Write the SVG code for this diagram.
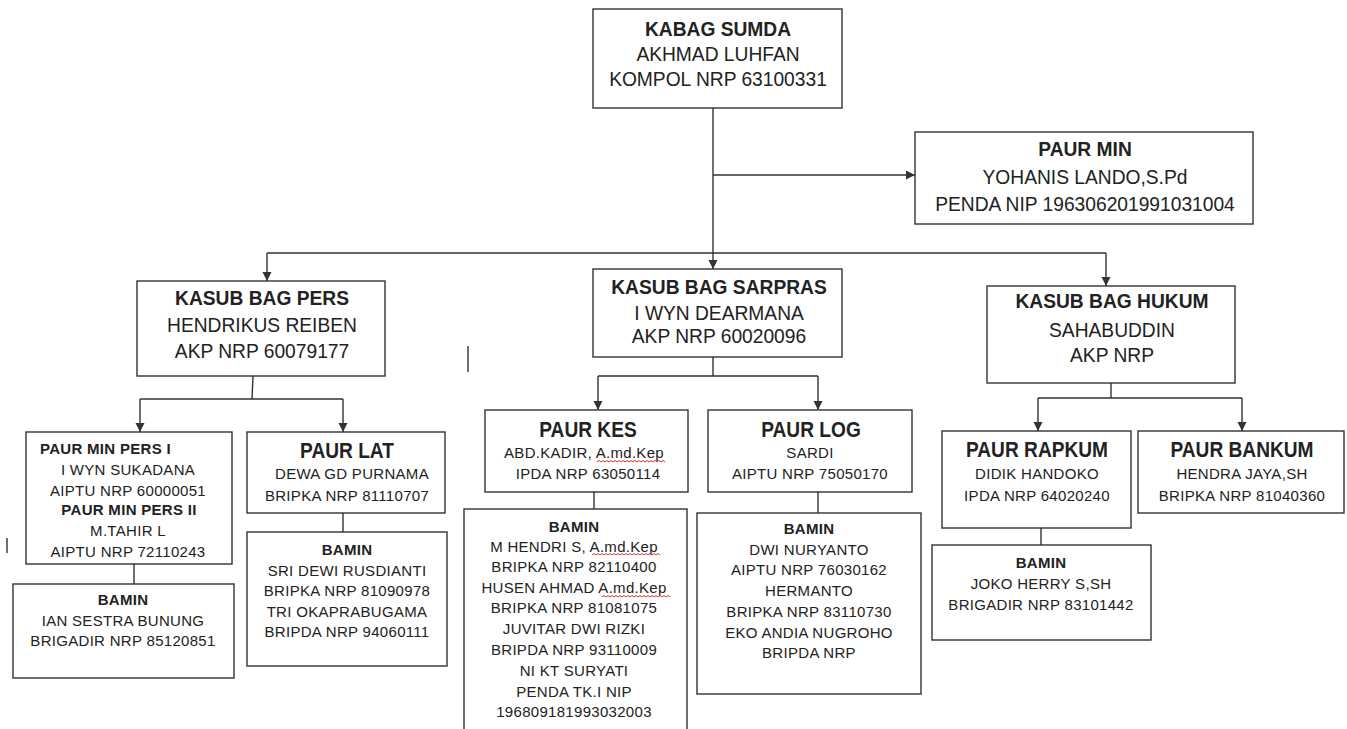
<svg xmlns="http://www.w3.org/2000/svg" width="1347" height="729" viewBox="0 0 1347 729">
<style>
.box{fill:#fff;stroke:#333;stroke-width:1.4}
.ln{fill:none;stroke:#333;stroke-width:1.4}
text{font-family:"Liberation Sans",Arial,sans-serif;fill:#222;text-anchor:middle}
.h,.hb,.pb{font-size:21px;transform-box:fill-box;transform-origin:center;transform:scaleX(0.915)}
.hb,.pb{font-weight:bold}
.pb{font-size:22px;transform:scaleX(0.87)}
.s{font-size:15px;letter-spacing:0.3px}
.sb{font-size:15px;font-weight:bold;letter-spacing:0.3px}
.sq{fill:none;stroke:#e03030;stroke-width:1}
</style>
<defs>
<marker id="ar" markerUnits="userSpaceOnUse" markerWidth="10" markerHeight="10" refX="9" refY="4.5" orient="auto">
<path d="M0,0 L9,4.5 L0,9 z" fill="#333"/>
</marker>
</defs>
<rect width="1347" height="729" fill="#fff"/>
<g id="connectors">
<path class="ln" d="M713,108 V269" marker-end="url(#ar)"/>
<path class="ln" d="M713,175 H915" marker-end="url(#ar)"/>
<path class="ln" d="M267,253 H1106"/>
<path class="ln" d="M267,253 V281" marker-end="url(#ar)"/>
<path class="ln" d="M1106,253 V286" marker-end="url(#ar)"/>
<path class="ln" d="M253,376 L252,399"/>
<path class="ln" d="M140,399 H343"/>
<path class="ln" d="M140,399 V432" marker-end="url(#ar)"/>
<path class="ln" d="M343,399 V432" marker-end="url(#ar)"/>
<path class="ln" d="M134,564 V584"/>
<path class="ln" d="M343,513 V532"/>
<path class="ln" d="M713,357 V376"/>
<path class="ln" d="M598,376 H818"/>
<path class="ln" d="M598,376 V410" marker-end="url(#ar)"/>
<path class="ln" d="M818,376 V410" marker-end="url(#ar)"/>
<path class="ln" d="M594,492 V509"/>
<path class="ln" d="M818,492 V513"/>
<path class="ln" d="M1111,383 V398"/>
<path class="ln" d="M1038,398 H1242"/>
<path class="ln" d="M1038,398 V431" marker-end="url(#ar)"/>
<path class="ln" d="M1242,398 V431" marker-end="url(#ar)"/>
<path class="ln" d="M1041,528 V545"/>
</g>
<g id="marks">
<path class="ln" d="M468,346 V372" stroke-width="1.6"/>
<path class="ln" d="M7,538 V553" stroke-width="1.6"/>
</g>
<g id="kabag">
<rect class="box" x="593" y="9" width="249" height="99"/>
<text class="hb" x="718" y="36">KABAG SUMDA</text>
<text class="h" x="718" y="61">AKHMAD LUHFAN</text>
<text class="h" x="718" y="86">KOMPOL NRP 63100331</text>
</g>
<g id="paurmin">
<rect class="box" x="915" y="132" width="338" height="92"/>
<text class="hb" x="1085" y="156">PAUR MIN</text>
<text class="h" x="1085" y="184">YOHANIS LANDO,S.Pd</text>
<text class="h" x="1085" y="211">PENDA NIP 196306201991031004</text>
</g>
<g id="kasubpers">
<rect class="box" x="137" y="281" width="248" height="95"/>
<text class="hb" x="262" y="305">KASUB BAG PERS</text>
<text class="h" x="262" y="332">HENDRIKUS REIBEN</text>
<text class="h" x="262" y="358">AKP NRP 60079177</text>
</g>
<g id="kasubsarpras">
<rect class="box" x="593" y="269" width="249" height="88"/>
<text class="hb" x="719" y="294">KASUB BAG SARPRAS</text>
<text class="h" x="719" y="320">I WYN DEARMANA</text>
<text class="h" x="719" y="343">AKP NRP 60020096</text>
</g>
<g id="kasubhukum">
<rect class="box" x="987" y="286" width="248" height="97"/>
<text class="hb" x="1112" y="308">KASUB BAG HUKUM</text>
<text class="h" x="1112" y="337">SAHABUDDIN</text>
<text class="h" x="1112" y="362">AKP NRP</text>
</g>
<g id="paurminpers">
<rect class="box" x="26" y="432" width="206" height="132"/>
<text class="sb" x="40" y="454" style="text-anchor:start">PAUR MIN PERS I</text>
<text class="s" x="128" y="475">I WYN SUKADANA</text>
<text class="s" x="128" y="496">AIPTU NRP 60000051</text>
<text class="sb" x="129" y="515">PAUR MIN PERS II</text>
<text class="s" x="128" y="536">M.TAHIR L</text>
<text class="s" x="128" y="557">AIPTU NRP 72110243</text>
</g>
<g id="bamin1">
<rect class="box" x="13" y="584" width="221" height="94"/>
<text class="sb" x="123" y="605">BAMIN</text>
<text class="s" x="123" y="626">IAN SESTRA BUNUNG</text>
<text class="s" x="123" y="646">BRIGADIR NRP 85120851</text>
</g>
<g id="paurlat">
<rect class="box" x="247" y="432" width="198" height="81"/>
<text class="pb" x="347" y="458">PAUR LAT</text>
<text class="s" x="352" y="479">DEWA GD PURNAMA</text>
<text class="s" x="347" y="501">BRIPKA NRP 81110707</text>
</g>
<g id="bamin2">
<rect class="box" x="247" y="532" width="200" height="134"/>
<text class="sb" x="347" y="555">BAMIN</text>
<text class="s" x="347" y="576">SRI DEWI RUSDIANTI</text>
<text class="s" x="347" y="596">BRIPKA NRP 81090978</text>
<text class="s" x="347" y="617">TRI OKAPRABUGAMA</text>
<text class="s" x="347" y="637">BRIPDA NRP 94060111</text>
</g>
<g id="paurkes">
<rect class="box" x="485" y="410" width="203" height="82"/>
<text class="pb" x="588" y="437">PAUR KES</text>
<text class="s" x="584" y="458">ABD.KADIR, A.md.Kep</text>
<text class="s" x="588" y="479">IPDA NRP 63050114</text>
<path class="sq" d="M597,462 l2,-1.5 l2,1.5 l2,-1.5 l2,1.5 l2,-1.5 l2,1.5 l2,-1.5 l2,1.5 l2,-1.5 l2,1.5 l2,-1.5 l2,1.5 l2,-1.5 l2,1.5 l2,-1.5 l2,1.5 l2,-1.5 l2,1.5 l2,-1.5 l2,1.5 l2,-1.5 l2,1.5 l2,-1.5 l2,1.5 l2,-1.5 l2,1.5 l2,-1.5 l2,1.5 l2,-1.5 l2,1.5 l2,-1.5 l2,1.5 l2,-1.5 l2,1.5"/>
</g>
<g id="bamin3">
<rect class="box" x="464" y="509" width="223" height="240"/>
<text class="sb" x="574" y="532">BAMIN</text>
<text class="s" x="574" y="552">M HENDRI S, A.md.Kep</text>
<text class="s" x="574" y="572">BRIPKA NRP 82110400</text>
<text class="s" x="574" y="593">HUSEN AHMAD A.md.Kep</text>
<text class="s" x="574" y="613">BRIPKA NRP 81081075</text>
<text class="s" x="574" y="634">JUVITAR DWI RIZKI</text>
<text class="s" x="574" y="655">BRIPDA NRP 93110009</text>
<text class="s" x="574" y="676">NI KT SURYATI</text>
<text class="s" x="574" y="697">PENDA TK.I NIP</text>
<text class="s" x="574" y="717">196809181993032003</text>
<path class="sq" d="M592,555 l2,-1.5 l2,1.5 l2,-1.5 l2,1.5 l2,-1.5 l2,1.5 l2,-1.5 l2,1.5 l2,-1.5 l2,1.5 l2,-1.5 l2,1.5 l2,-1.5 l2,1.5 l2,-1.5 l2,1.5 l2,-1.5 l2,1.5 l2,-1.5 l2,1.5 l2,-1.5 l2,1.5 l2,-1.5 l2,1.5 l2,-1.5 l2,1.5 l2,-1.5 l2,1.5 l2,-1.5 l2,1.5 l2,-1.5 l2,1.5 l2,-1.5 l2,1.5"/>
<path class="sq" d="M602,597 l2,-1.5 l2,1.5 l2,-1.5 l2,1.5 l2,-1.5 l2,1.5 l2,-1.5 l2,1.5 l2,-1.5 l2,1.5 l2,-1.5 l2,1.5 l2,-1.5 l2,1.5 l2,-1.5 l2,1.5 l2,-1.5 l2,1.5 l2,-1.5 l2,1.5 l2,-1.5 l2,1.5 l2,-1.5 l2,1.5 l2,-1.5 l2,1.5 l2,-1.5 l2,1.5 l2,-1.5 l2,1.5 l2,-1.5 l2,1.5 l2,-1.5 l2,1.5"/>
</g>
<g id="paurlog">
<rect class="box" x="708" y="410" width="204" height="82"/>
<text class="pb" x="811" y="437">PAUR LOG</text>
<text class="s" x="810" y="458">SARDI</text>
<text class="s" x="810" y="479">AIPTU NRP 75050170</text>
</g>
<g id="bamin4">
<rect class="box" x="697" y="513" width="224" height="181"/>
<text class="sb" x="809" y="534">BAMIN</text>
<text class="s" x="809" y="555">DWI NURYANTO</text>
<text class="s" x="809" y="575">AIPTU NRP 76030162</text>
<text class="s" x="809" y="596">HERMANTO</text>
<text class="s" x="809" y="617">BRIPKA NRP 83110730</text>
<text class="s" x="809" y="638">EKO ANDIA NUGROHO</text>
<text class="s" x="809" y="658">BRIPDA NRP</text>
</g>
<g id="paurrapkum">
<rect class="box" x="942" y="431" width="189" height="97"/>
<text class="pb" x="1037" y="457">PAUR RAPKUM</text>
<text class="s" x="1037" y="479">DIDIK HANDOKO</text>
<text class="s" x="1037" y="501">IPDA NRP 64020240</text>
</g>
<g id="paurbankum">
<rect class="box" x="1138" y="431" width="206" height="82"/>
<text class="pb" x="1242" y="457">PAUR BANKUM</text>
<text class="s" x="1242" y="479">HENDRA JAYA,SH</text>
<text class="s" x="1242" y="501">BRIPKA NRP 81040360</text>
</g>
<g id="bamin5">
<rect class="box" x="932" y="545" width="219" height="95"/>
<text class="sb" x="1041" y="568">BAMIN</text>
<text class="s" x="1041" y="589">JOKO HERRY S,SH</text>
<text class="s" x="1041" y="610">BRIGADIR NRP 83101442</text>
</g>
</svg>
